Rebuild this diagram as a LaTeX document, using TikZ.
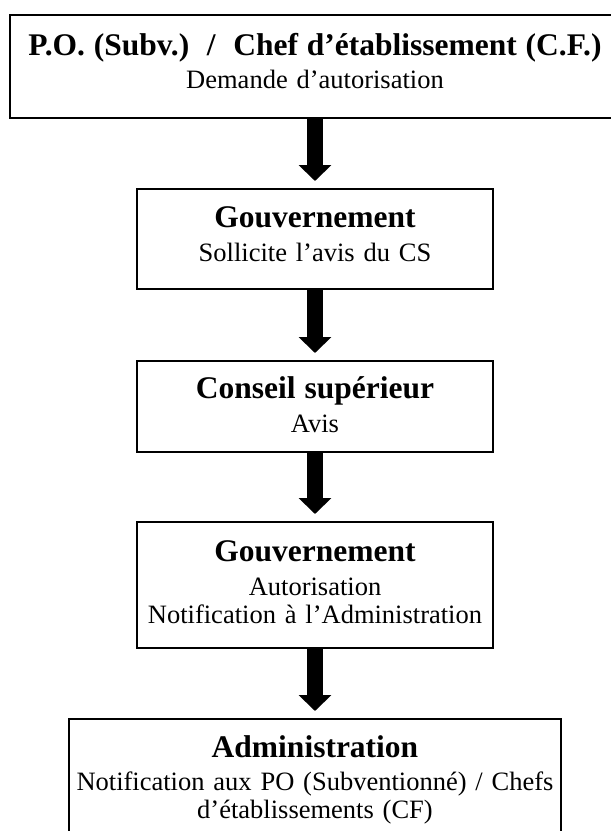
\documentclass[tikz,border=0pt]{standalone}
\usepackage{fontspec}
\setmainfont{Liberation Serif}
\usetikzlibrary{arrows.meta}

\def\titre{\bfseries\fontsize{31.5}{34}\selectfont}

\begin{document}
\frenchspacing
\begin{tikzpicture}[x=1pt, y=-1pt,
    etape/.style={draw, line width=2pt, inner sep=0pt, outer sep=0pt, anchor=north,
      align=center, font=\fontsize{26.5}{28}\selectfont},
    fleche/.style={line width=16pt, -{Triangle[width=32pt,length=16pt]}, shorten >=8pt}]
      \fill[white] (0,0) rectangle (611,831);
      \useasboundingbox (0,0) rectangle (611,831);
      % les etapes
      \node[etape, text width=610pt, text height=40pt, text depth=63pt] (po) at (315,15)
        {{\titre P.O. (Subv.) \ / \ Chef d'établissement (C.F.)}\\[5pt] Demande d'autorisation};
      \node[etape, text width=356pt, text height=38pt, text depth=62pt] (gouv1) at (315,189)
        {{\titre Gouvernement}\\[6pt] Sollicite l'avis du CS};
      \node[etape, text width=356pt, text height=37pt, text depth=54pt] (cs) at (315,361)
        {{\titre Conseil supérieur}\\[6pt] Avis};
      \node[etape, text width=356pt, text height=39pt, text depth=87pt] (gouv2) at (315,522)
        {{\titre Gouvernement}\\[6pt] Autorisation\\ Notification à l'Administration};
      \node[etape, text width=492pt, text height=38pt, text depth=126pt] (admin) at (315,719)
        {{\titre Administration}\\[5pt] Notification aux PO (Subventionné) / Chefs\\ d'établissements (CF)};
      % les fleches
      \draw[fleche] (po) -- (gouv1);
      \draw[fleche] (gouv1) -- (cs);
      \draw[fleche] (cs) -- (gouv2);
      \draw[fleche] (gouv2) -- (admin);
    \end{tikzpicture}
\end{document}
